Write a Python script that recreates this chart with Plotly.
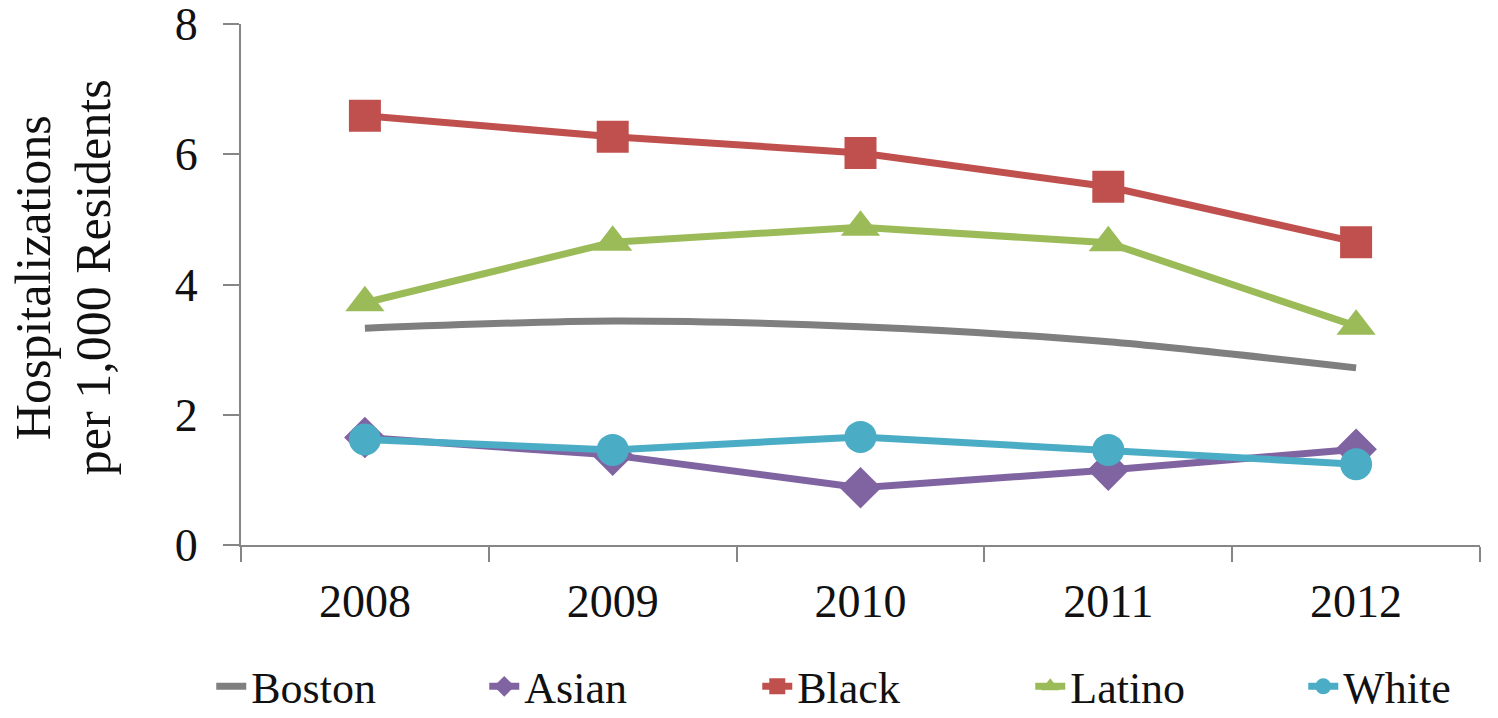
import plotly.graph_objects as go

# Hospitalizations per 1,000 residents, Boston and by race/ethnicity
years = ["2008", "2009", "2010", "2011", "2012"]
boston = [3.33, 3.44, 3.35, 3.12, 2.72]
asian = [1.65, 1.38, 0.88, 1.15, 1.47]
black = [6.59, 6.27, 6.02, 5.50, 4.65]
latino = [3.72, 4.65, 4.88, 4.64, 3.36]
white = [1.62, 1.46, 1.66, 1.46, 1.24]

title_lines = ["Hospitalizations", "per 1,000 Residents"]

FONT = "Liberation Serif"
AXIS_GREY = "#868686"
TEXT = "#111111"

fig = go.Figure()

fig.add_trace(go.Scatter(
    x=years, y=boston, name="Boston", mode="lines",
    line=dict(color="#7F7F7F", width=7, shape="spline", smoothing=0.8),
))
fig.add_trace(go.Scatter(
    x=years, y=asian, name="Asian", mode="lines+markers",
    line=dict(color="#8064A2", width=7),
    marker=dict(symbol="diamond", size=32, color="#8064A2"),
))
fig.add_trace(go.Scatter(
    x=years, y=black, name="Black", mode="lines+markers",
    line=dict(color="#C0504D", width=7),
    marker=dict(symbol="square", size=32, color="#C0504D"),
))
fig.add_trace(go.Scatter(
    x=years, y=latino, name="Latino", mode="lines+markers",
    line=dict(color="#9BBB59", width=7),
    marker=dict(symbol="triangle-up", size=34, color="#9BBB59"),
))
fig.add_trace(go.Scatter(
    x=years, y=white, name="White", mode="lines+markers",
    line=dict(color="#4BACC6", width=7),
    marker=dict(symbol="circle", size=32, color="#4BACC6"),
))

fig.update_layout(
    width=1498, height=718,
    margin=dict(l=241, r=18, t=24, b=173, autoexpand=False),
    paper_bgcolor="white", plot_bgcolor="white",
    font=dict(family=FONT, size=46, color=TEXT),
    showlegend=True,
    legend=dict(
        orientation="h",
        x=-0.024, xanchor="left",
        y=-0.272, yanchor="middle",
        font=dict(family=FONT, size=44, color=TEXT),
        entrywidth=228, itemwidth=30,
        bgcolor="rgba(0,0,0,0)",
    ),
)

# two-line rotated y-axis title
for i, line in enumerate(title_lines):
    fig.add_annotation(
        text=line, textangle=-90, showarrow=False,
        xref="paper", yref="paper",
        x=[-0.1679, -0.1195][i], y=0.514,
        xanchor="center", yanchor="middle",
        font=dict(family=FONT, size=50, color=TEXT),
    )

fig.update_xaxes(
    type="category", range=[-0.5, 4.5], automargin=False,
    showline=True, linecolor=AXIS_GREY, linewidth=2,
    ticks="outside", tickson="boundaries", ticklen=15, tickwidth=2, tickcolor=AXIS_GREY,
    ticklabelstandoff=15,
    showgrid=False, zeroline=False,
    tickfont=dict(family=FONT, size=46, color=TEXT),
)

fig.update_yaxes(
    range=[0, 8], tickvals=[0, 2, 4, 6, 8], automargin=False,
    ticklabeloverflow="allow",
    showline=True, linecolor=AXIS_GREY, linewidth=2,
    ticks="outside", ticklen=16, tickwidth=2, tickcolor=AXIS_GREY,
    ticklabelstandoff=16,
    showgrid=False, zeroline=False,
    tickfont=dict(family=FONT, size=46, color=TEXT),
)

fig.write_html("out.html")
